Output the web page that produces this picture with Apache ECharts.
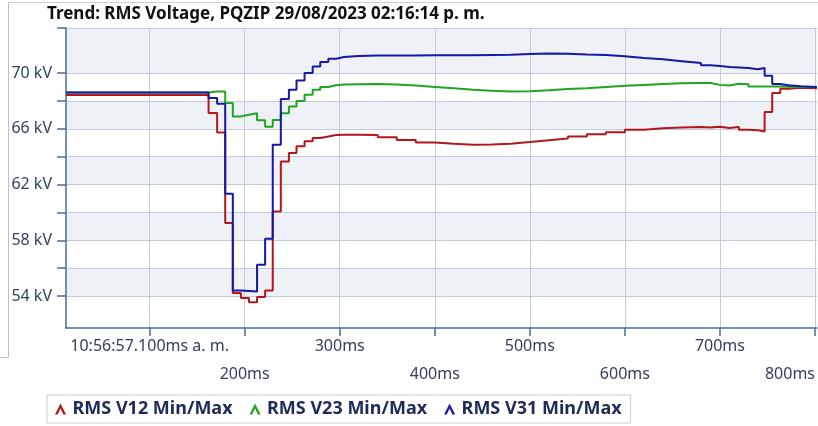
<!DOCTYPE html>
<html>
<head>
<meta charset="utf-8">
<script src="https://cdn.jsdelivr.net/npm/echarts@6/dist/echarts.min.js"></script>
<style>
    html, body { margin: 0; padding: 0; background: #fff; }
    #chart { width: 818px; height: 426px; }
</style>
</head>
<body>
<div id="chart"></div>
<script>
// time of each step (ms after 10:56:57.000)
var times = [12, 162, 171, 179.5, 187.5, 196, 204.5, 213, 221.5, 229.5, 238, 246.5, 254.5, 263, 271.5, 279.5, 288, 296, 304.5,
    320, 340, 360, 380, 400, 420, 440, 460, 480, 500, 520, 540, 560, 580, 600, 620, 640, 660, 680, 690, 700, 710, 720, 730, 740,
    747, 755, 763.5, 772, 785, 802];
// RMS V12 (kV)
var v12 = [68.42, 67.13, 65.74, 59.24, 54.22, 53.86, 53.55, 53.93, 54.4, 60.07, 63.66, 64.26, 64.74, 65.1, 65.34, 65.45, 65.55, 65.58, 65.57,
    65.55, 65.4, 65.2, 65.02, 64.92, 64.86, 64.87, 64.93, 65.05, 65.18, 65.3, 65.45, 65.6, 65.75, 65.93, 66.03, 66.1, 66.13, 66.1, 66.15, 66.05, 66.12, 65.93, 65.9, 65.81,
    67.2, 68.57, 68.87, 68.95, 68.9, 68.9];
// RMS V23 (kV)
var v23 = [68.6, 68.68, 68.68, 67.85, 66.89, 67.0, 67.12, 66.62, 66.15, 66.63, 67.12, 67.6, 68.0, 68.45, 68.8, 69.0, 69.12, 69.18, 69.2,
    69.22, 69.18, 69.1, 69.0, 68.9, 68.8, 68.72, 68.68, 68.7, 68.77, 68.85, 68.9, 69.0, 69.08, 69.15, 69.22, 69.26, 69.28, 69.28, 69.15, 69.1, 69.23, 69.2, 69.04, 69.04,
    69.04, 69.03, 69.02, 69.0, 69.0, 69.0];
// RMS V31 (kV)
var v31 = [68.6, 68.2, 67.8, 61.34, 54.4, 54.37, 54.33, 56.25, 58.11, 64.86, 68.13, 68.8, 69.47, 70.0, 70.47, 70.79, 71.03, 71.15, 71.22,
    71.25, 71.26, 71.26, 71.27, 71.28, 71.28, 71.3, 71.32, 71.36, 71.4, 71.38, 71.33, 71.3, 71.2, 71.08, 70.98, 70.85, 70.72, 70.55, 70.5, 70.43, 70.4, 70.36, 70.27, 70.36,
    69.8, 69.22, 69.12, 69.06, 69.0, 68.95];

var xTicks = [100, 200, 300, 400, 500, 600, 700, 800];
var xLabelsTop = [100, 300, 500, 700];
var xLabelsBottom = [200, 400, 600, 800];
var yTicks = [54, 56, 58, 60, 62, 64, 66, 68, 70, 73.23];
var yLabels = [54, 58, 62, 66, 70];

var seriesNames = ['RMS V12 Min/Max', 'RMS V23 Min/Max', 'RMS V31 Min/Max'];
var seriesColors = ['#b3171c', '#1fa51f', '#1717a8'];

var chevron = 'path://M0,10 L5,0 L10,10 L7.6,10 L5,4.6 L2.4,10 Z';
var labelFont = '"Noto Sans", sans-serif';
var axisColor = '#4a68a6';

function pairs(values) {
    return times.map(function (t, i) { return [t, values[i]]; });
}

function msLabel(v) {
    if (v === 100) return '10:56:57.100ms a. m.';
    return v + 'ms';
}

var chart = echarts.init(document.getElementById('chart'));
var option = {
    animation: false,
    backgroundColor: '#fff',
    title: {
        text: 'Trend: RMS Voltage, PQZIP 29/08/2023 02:16:14 p. m.',
        left: 42,
        top: 1,
        textStyle: {
            fontFamily: labelFont,
            fontSize: 17,
            fontWeight: 'bold',
            color: '#111'
        }
    },
    graphic: [
        { type: 'line', shape: { x1: 8.5, y1: 2.5, x2: 818, y2: 2.5 }, style: { stroke: '#ccd1d8', lineWidth: 1 } },
        { type: 'line', shape: { x1: 8.5, y1: 2.5, x2: 8.5, y2: 357.5 }, style: { stroke: '#b9c0ca', lineWidth: 1 } },
        { type: 'line', shape: { x1: 0, y1: 357.5, x2: 8.5, y2: 357.5 }, style: { stroke: '#b9c0ca', lineWidth: 1 } }
    ],
    grid: {
        left: 66,
        right: 0,
        top: 28,
        bottom: 98,
        containLabel: false
    },
    legend: {
        left: 47,
        top: 395,
        padding: [5, 9, 5, 8],
        itemGap: 17,
        itemWidth: 14,
        itemHeight: 11,
        backgroundColor: '#fff',
        borderColor: '#c5ccd8',
        borderWidth: 1,
        borderRadius: 0,
        icon: chevron,
        textStyle: {
            fontFamily: labelFont,
            fontSize: 18,
            fontWeight: 'bold',
            color: '#1e2b57'
        },
        data: seriesNames
    },
    xAxis: [{
        type: 'value',
        min: 12,
        max: 802,
        axisLine: { lineStyle: { color: axisColor, width: 1.5 } },
        axisTick: { show: true, inside: false, length: 8, customValues: xTicks, lineStyle: { color: axisColor, width: 1.5 } },
        splitLine: { show: true, lineStyle: { color: '#c3cbd8', width: 1 } },
        axisLabel: {
            customValues: xLabelsTop,
            margin: 10,
            fontFamily: labelFont,
            fontSize: 16,
            color: '#34415c',
            formatter: msLabel
        }
    }, {
        type: 'value',
        min: 12,
        max: 802,
        position: 'bottom',
        axisLine: { show: false },
        axisTick: { show: false },
        splitLine: { show: false },
        axisLabel: {
            customValues: xLabelsBottom,
            margin: 38,
            fontFamily: labelFont,
            fontSize: 16,
            color: '#34415c',
            alignMaxLabel: 'right',
            formatter: msLabel
        }
    }],
    yAxis: {
        type: 'value',
        min: 51.71,
        max: 73.23,
        axisLine: { show: true, lineStyle: { color: axisColor, width: 1.5 } },
        axisTick: { show: true, inside: false, length: 9, customValues: yTicks, lineStyle: { color: axisColor, width: 1.5 } },
        splitLine: { show: true, lineStyle: { color: '#c3cbd8', width: 1 } },
        splitArea: { show: true, areaStyle: { color: ['#eef1f6', '#ffffff'] } },
        axisLabel: {
            customValues: yLabels,
            margin: 14,
            fontFamily: labelFont,
            fontSize: 16,
            color: '#34415c',
            formatter: function (v) { return v + ' kV'; }
        }
    },
    series: [{
        name: seriesNames[0],
        type: 'line',
        step: 'end',
        showSymbol: false,
        data: pairs(v12),
        itemStyle: { color: seriesColors[0] },
        lineStyle: { color: seriesColors[0], width: 2 }
    }, {
        name: seriesNames[1],
        type: 'line',
        step: 'end',
        showSymbol: false,
        data: pairs(v23),
        itemStyle: { color: seriesColors[1] },
        lineStyle: { color: seriesColors[1], width: 2 }
    }, {
        name: seriesNames[2],
        type: 'line',
        step: 'end',
        showSymbol: false,
        data: pairs(v31),
        itemStyle: { color: seriesColors[2] },
        lineStyle: { color: seriesColors[2], width: 2 }
    }]
};
chart.setOption(option);
</script>
</body>
</html>
